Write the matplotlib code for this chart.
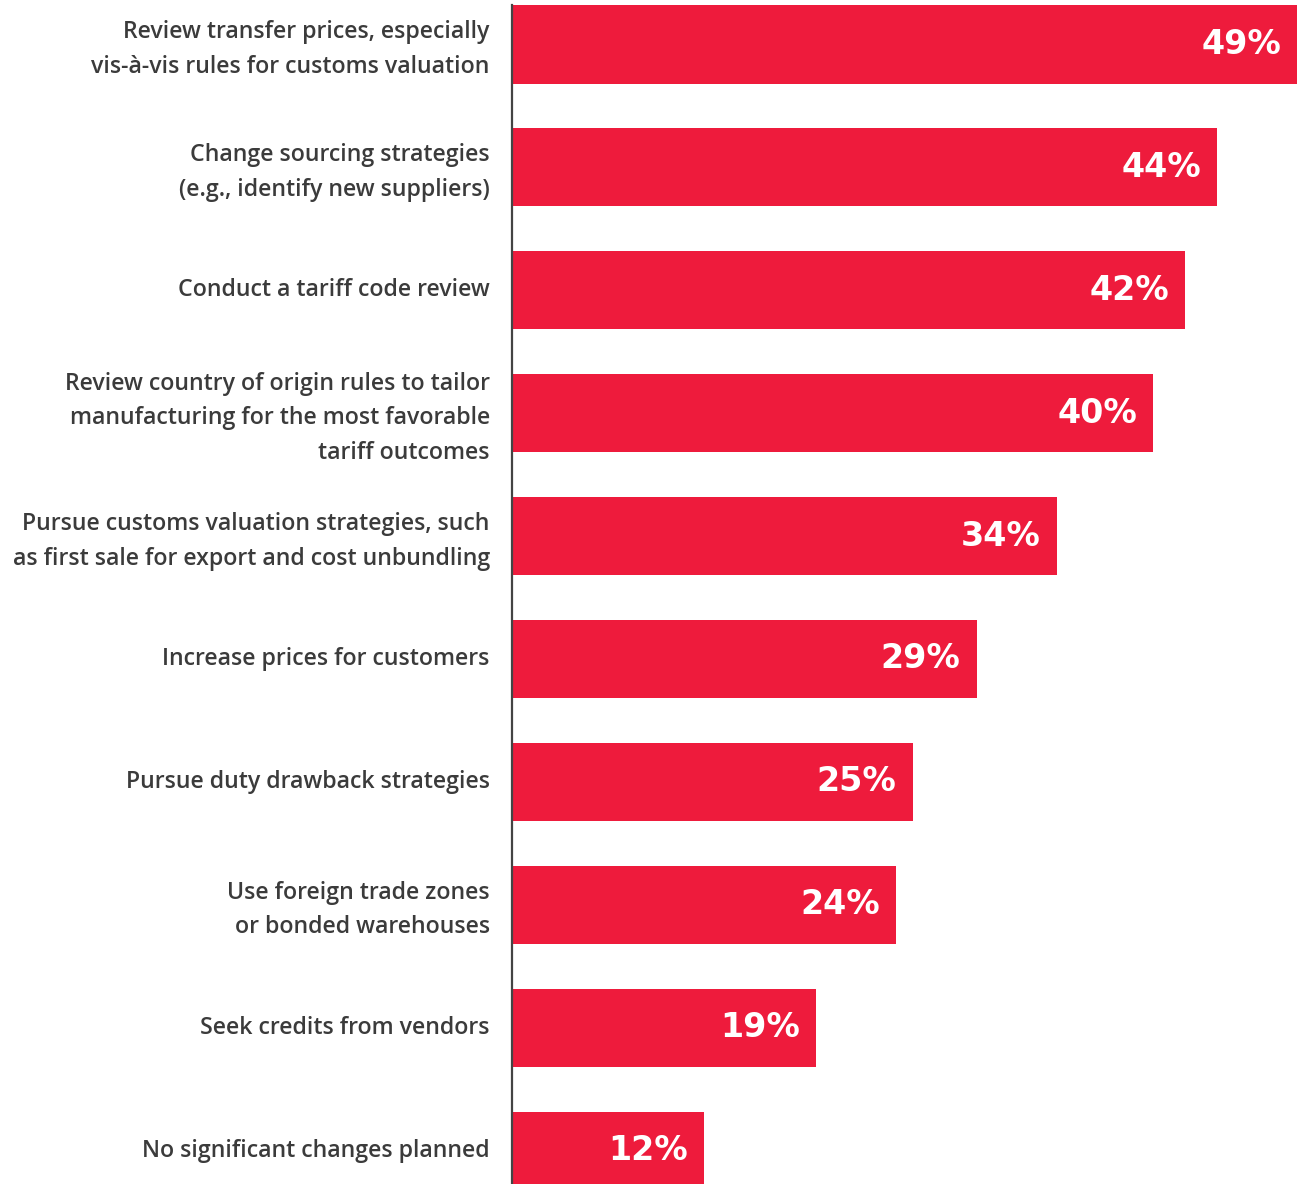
import matplotlib
matplotlib.use("Agg")
import matplotlib.pyplot as plt
from matplotlib.transforms import offset_copy, ScaledTranslation

plt.rcParams.update({"font.family": ["Open Sans", "DejaVu Sans"]})

LABELS = [
    "Review transfer prices, especially\nvis-à-vis rules for customs valuation",
    "Change sourcing strategies\n(e.g., identify new suppliers)",
    "Conduct a tariff code review",
    "Review country of origin rules to tailor\nmanufacturing for the most favorable\ntariff outcomes",
    "Pursue customs valuation strategies, such\nas first sale for export and cost unbundling",
    "Increase prices for customers",
    "Pursue duty drawback strategies",
    "Use foreign trade zones\nor bonded warehouses",
    "Seek credits from vendors",
    "No significant changes planned",
]
SHARES = [49, 44, 42, 40, 34, 29, 25, 24, 19, 12]

RED = "#EE1B3C"
INK = "#3b3b3b"
BAR_H = 0.635

fig = plt.figure(figsize=(13.01, 11.84), dpi=100)
ax = fig.add_axes([512 / 1301, 0, (1297 - 512) / 1301, 1])

ypos = list(range(len(SHARES)))
ax.barh(ypos, SHARES, height=BAR_H, color=RED, left=0)
ax.set_xlim(0, 49)
ax.set_ylim(9.272, -0.362)

# percentage labels sit inside the bar, flush to its end
inside = offset_copy(ax.transData, fig=fig, x=-16, y=0, units="dots")
for y, v in zip(ypos, SHARES):
    ax.text(v, y, f"{v}%", transform=inside, ha="right", va="center",
            color="white", fontsize=24, fontweight="bold", family="DejaVu Sans")

ax.set_yticks(ypos)
ax.set_yticklabels(LABELS, fontsize=16.7, fontweight=600, color=INK,
                   linespacing=1.58, ha="right")
ax.tick_params(axis="y", length=0, pad=16)
ax.tick_params(axis="x", bottom=False, labelbottom=False)
# nudge the category text up a touch so it centres on the bars
nudge = ScaledTranslation(0, 3 / 100, fig.dpi_scale_trans)
for lab in ax.get_yticklabels():
    lab.set_transform(lab.get_transform() + nudge)

for s in ("top", "right", "bottom"):
    ax.spines[s].set_visible(False)
ax.spines["left"].set_color("#444444")
ax.spines["left"].set_linewidth(1.6)
ax.spines["left"].set_bounds(9.272, -BAR_H / 2)

fig.savefig("out.png", dpi=100, facecolor="white")
